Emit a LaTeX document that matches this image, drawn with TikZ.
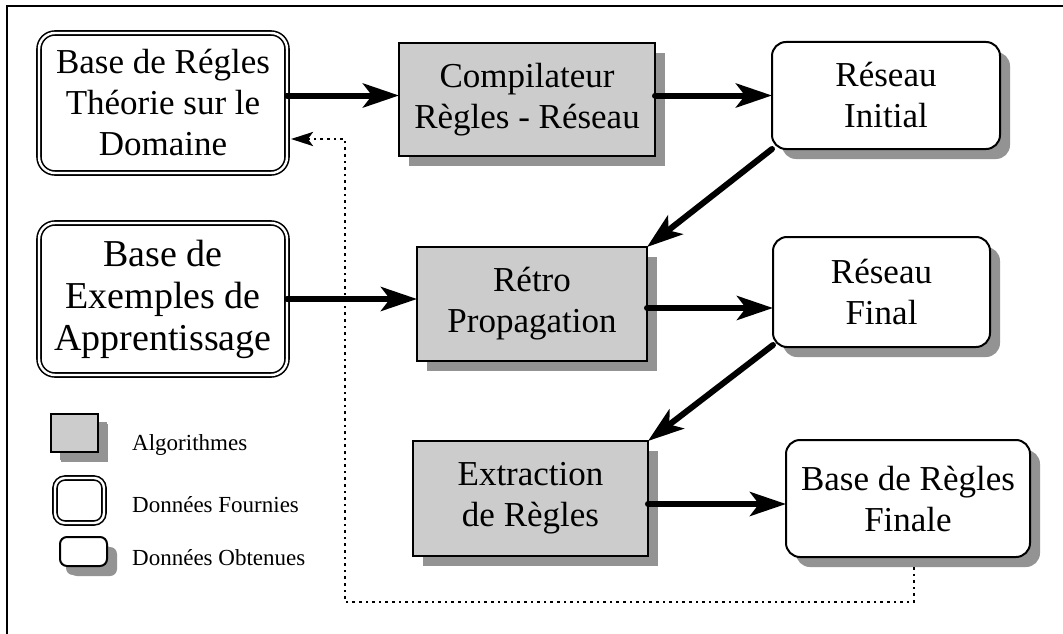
\documentclass[tikz,border=0pt]{standalone}
\usepackage{fontspec}
\setmainfont{Liberation Serif}
\usetikzlibrary{shadows,arrows.meta,calc}
\definecolor{algfill}{HTML}{CCCCCC}
\definecolor{shadowgray}{HTML}{939393}
\begin{document}
\begin{tikzpicture}[x=1pt,y=-1pt,
  big/.style={font=\fontsize{35}{41}\selectfont, align=center, inner sep=0pt, outer sep=0pt},
  bigger/.style={big, font=\fontsize{38}{42}\selectfont},
  small/.style={font=\fontsize{23}{27}\selectfont, inner sep=0pt},
  algo/.style={draw=black, line width=2pt, fill=algfill,
    drop shadow={shadow xshift=10pt, shadow yshift=-10pt, fill=shadowgray, opacity=1}},
  given/.style={draw=black, line width=1.6pt, double=white, double distance=2.4pt, rounded corners=16pt},
  got/.style={draw=black, line width=2pt, fill=white, rounded corners=14pt,
    drop shadow={shadow xshift=10pt, shadow yshift=-10pt, fill=shadowgray, opacity=1}},
  arr/.style={line width=6pt, line cap=round, -{Stealth[length=36pt,width=24pt,inset=9pt]}},
  dotarr/.style={line width=2.6pt, dash pattern=on 2.6pt off 4pt, -{Stealth[length=22pt,width=14pt,inset=5pt]}},
]
\useasboundingbox (0,0) rectangle (1063,634);
\draw[line width=2pt] (7,634) -- (7,6) -- (1063,6);

% main boxes
\node[big, given, minimum width=248pt, minimum height=140pt] (b1) at (163,103) {Base de Régles\\Théorie sur le\\Domaine};
\node[bigger, given, minimum width=248pt, minimum height=152pt] (b2) at (163,299) {Base de\\Exemples de\\Apprentissage};
\node[big, algo, minimum width=256pt, minimum height=113pt] (comp) at (527,99.5) {Compilateur\\Règles - Réseau};
\node[big, got, minimum width=228pt, minimum height=107pt] (ri) at (886,95.5) {Réseau\\Initial};
\node[big, algo, minimum width=230pt, minimum height=114pt] (retro) at (532,304) {Rétro\\Propagation};
\node[big, got, minimum width=217pt, minimum height=110pt] (rf) at (881.5,292) {Réseau\\Final};
\node[big, algo, minimum width=235pt, minimum height=115pt] (ext) at (530.5,498.5) {Extraction\\de Règles};
\node[big, got, minimum width=244pt, minimum height=117pt] (fin) at (908,498.5) {Base de Règles\\Finale};

% legend
\node[algo, minimum width=47pt, minimum height=38pt, inner sep=0pt,
  drop shadow={shadow xshift=9pt, shadow yshift=-8pt, fill=shadowgray, opacity=1}] (la) at (74.5,433) {};
\node[given, minimum width=49pt, minimum height=45pt, inner sep=0pt, rounded corners=10pt] (lf) at (79.5,500.5) {};
\node[got, minimum width=47pt, minimum height=29pt, inner sep=0pt, rounded corners=7pt,
  drop shadow={shadow xshift=6pt, shadow yshift=-9pt, fill=shadowgray, opacity=1}] (lo) at (83.5,551.5) {};
\node[small, anchor=base west] (ta) at (132,450) {Algorithmes};
\node[small, anchor=base west] (tf) at (132,512) {Données Fournies};
\node[small, anchor=base west] (to) at (132,565) {Données Obtenues};

% arrows
\draw[arr] (b1.east |- ri.west) -- (comp.west |- ri.west);
\draw[arr] (comp.east |- ri.west) -- (ri.west);
\draw[arr] (ri.south west) -- (retro.north east);
\draw[arr] (b2.east) -- (retro.west |- b2.east);
\coordinate (a3) at ($(retro.east)+(0,4)$);
\draw[arr] (a3) -- (rf.west |- a3);
\draw[arr] ($(rf.south west)+(0,-2)$) -- (ext.north east);
\coordinate (a5) at ($(ext.east)+(0,5.5)$);
\draw[arr] (a5) -- (fin.west |- a5);

% dotted feedback
\coordinate (d0) at ($(fin.south)+(6,10)$);
\coordinate (d1) at ($(d0)+(0,35)$);
\coordinate (d2) at (345,602);
\coordinate (d3) at (345,139);
\draw[dotarr] (d0) -- (d1) -- (d2) -- (d3) -- ($(b1.east |- d3)+(4,0)$);
\end{tikzpicture}
\end{document}
